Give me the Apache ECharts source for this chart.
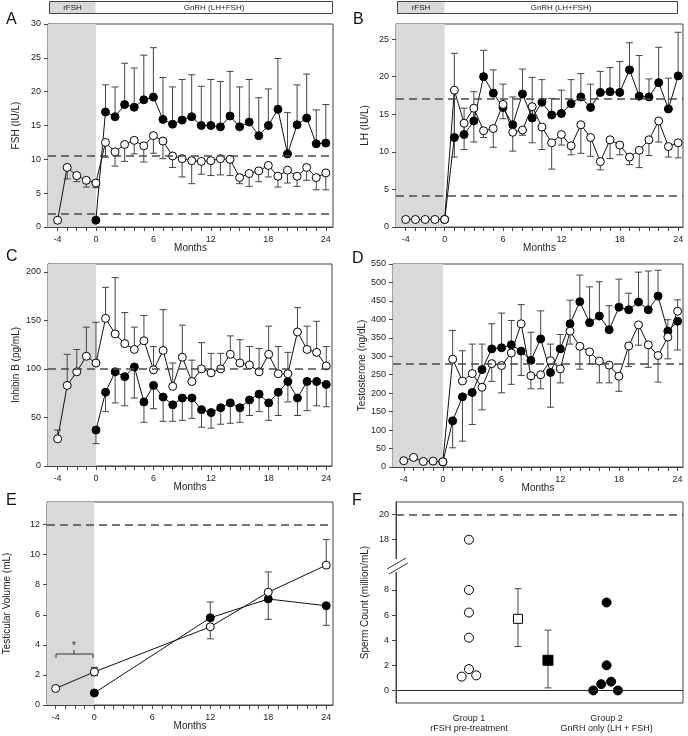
<!DOCTYPE html>
<html><head><meta charset="utf-8">
<script src="https://cdn.jsdelivr.net/npm/echarts@6/dist/echarts.min.js"></script>
<style>html,body{margin:0;padding:0;background:#fff}#c{width:688px;height:736px}</style>
</head><body><div id="c"></div>
<script>
// ---------- DATA ----------
const monthsOpen   = [-4,-3,-2,-1,0,1,2,3,4,5,6,7,8,9,10,11,12,13,14,15,16,17,18,19,20,21,22,23,24];
const monthsFilled = [0,1,2,3,4,5,6,7,8,9,10,11,12,13,14,15,16,17,18,19,20,21,22,23,24];
const tickMonths   = [-4,-3,-2,-1,0,1,2,3,4,5,6,7,8,9,10,11,12,13,14,15,16,17,18,19,20,21,22,23,24];
const labelMonths  = [-4,0,6,12,18,24];

// A: FSH (IU/L)
const fshFilled    = [1.0,17.0,16.3,18.1,17.7,18.8,19.2,15.9,15.2,15.8,16.3,15.0,15.0,14.8,16.4,14.8,15.5,13.5,15.0,17.4,10.8,15.1,16.1,12.3,12.4];
const fshFilledErr = [null,21.0,20.7,24.2,23.5,25.4,26.5,22.1,20.7,21.8,22.5,20.8,21.8,21.5,23.0,20.7,21.8,19.1,20.4,24.9,16.9,21.0,22.6,17.3,18.1];
const fshOpen      = [1.0,8.8,7.6,6.9,6.5,12.5,11.1,12.2,12.8,12.0,13.5,12.7,10.5,10.1,9.8,9.7,9.8,10.1,10.0,7.3,7.9,8.3,9.1,7.5,8.4,7.5,8.8,7.3,8.0];
const fshOpenErr   = [null,7.1,6.7,5.9,5.8,10.3,9.0,9.7,10.8,9.6,10.9,10.1,8.8,7.4,6.4,7.8,7.6,7.7,7.6,6.4,6.0,6.7,7.4,5.9,6.5,6.0,6.9,5.5,5.5];
const fshRefs      = [10.5, 2.0];
const fshTicks     = [0,5,10,15,20,25,30];

// B: LH (IU/L)
const lhFilled     = [1.0,11.9,12.3,14.1,20.0,17.8,15.9,13.6,17.7,14.5,16.6,14.9,15.1,16.4,17.3,15.9,17.9,18.0,17.9,20.9,17.4,17.3,19.2,15.7,20.1];
const lhFilledErr  = [null,23.1,15.8,18.0,23.5,20.9,19.0,17.3,21.0,19.9,19.6,17.1,18.2,19.6,20.4,19.0,20.7,21.2,22.0,24.5,22.8,19.7,23.9,19.8,25.9];
const lhOpen       = [1.0,1.0,1.0,1.0,1.0,18.2,13.8,15.8,12.8,13.1,16.3,12.6,12.9,16.0,13.3,11.2,12.3,10.8,13.6,11.9,8.7,11.6,10.9,9.3,10.2,11.6,14.1,10.7,11.2];
const lhOpenErr    = [null,null,null,null,null,9.3,10.3,11.3,11.9,10.6,14.4,10.1,12.2,11.2,10.3,7.7,10.9,9.6,9.8,9.4,7.6,9.1,9.6,8.3,7.9,9.5,11.3,9.3,9.2];
const lhRefs       = [17.0, 4.2];
const lhTicks      = [0,5,10,15,20,25];

// C: Inhibin B (pg/mL)
const inhFilled    = [37,76,97,92,102,66,83,71,63,70,70,58,55,60,65,60,68,74,65,76,87,70,87,87,84];
const inhFilledErr = [23,56,65,62,70,45,59,46,46,47,49,40,39,43,44,45,52,56,47,52,66,52,57,62,61];
const inhOpen      = [28,83,97,113,106,152,136,126,120,129,99,119,82,112,87,100,96,100,115,106,104,97,115,95,95,138,120,117,103];
const inhOpenErr   = [37,115,120,143,148,184,194,158,143,155,123,161,106,145,109,127,116,116,134,130,123,121,144,123,117,163,144,149,123];
const inhRefs      = [100];
const inhTicks     = [0,50,100,150,200];

// D: Testosterone (ng/dL)
const tesFilled    = [14,125,190,202,264,320,323,331,314,289,347,256,320,388,448,391,409,372,433,426,447,426,463,368,395];
const tesFilledErr = [null,52,70,115,333,388,417,397,248,365,423,162,359,452,520,488,502,437,509,471,528,531,533,399,317];
const tesOpen      = [17,26,15,16,14,292,233,253,216,280,275,309,388,247,250,288,266,368,327,312,287,276,246,328,385,331,302,352,422];
const tesOpenErr   = [null,null,null,null,null,370,315,333,155,232,201,224,440,212,212,333,228,333,265,279,228,228,205,272,330,270,230,293,453];
const tesRefs      = [280];
const tesTicks     = [0,50,100,150,200,250,300,350,400,450,500,550];

// E: Testicular volume (mL)
const volMonthsOpen   = [-4,0,12,18,24];
const volMonthsFilled = [0,12,18,24];
const volOpen         = [1.1,2.2,5.2,7.5,9.3];
const volOpenErr      = [null,2.5,4.4,8.85,11.0];
const volOpenErrLow   = [null,1.95,null,null,null];
const volFilled       = [0.8,5.8,7.05,6.6];
const volFilledErr    = [null,6.85,5.7,5.3];
const volRefs         = [12];
const volTicks        = [0,2,4,6,8,10,12];

// F: Sperm count (million/mL)
const groupPos      = [1, 2];
const groupLabels   = ['Group 1\nrFSH pre-treatment', 'Group 2\nGnRH only (LH + FSH)'];
const spermG1       = [18,8,6.2,4.2,1.7,1.1,1.2];
const spermG1Jitter = [0,0,0,0,0,-0.053,0.053];
const spermG2       = [7.0,2.0,0.5,0.7,0,0];
const spermG2Jitter = [0,0,-0.039,0.033,-0.097,0.082];
const meanPos       = [1.356, 1.574];
const meanVal       = [5.7, 2.4];
const meanLow       = [3.5, 0.2];
const meanHigh      = [8.1, 4.8];
const spermRef      = 20;
const spermTicks    = [0,2,4,6,8,18,20];
const breakLow = 8, breakHigh = 18, breakShrink = 6; // axis break 8 -> 18

// ---------- STYLE ----------
const FONT = 'Liberation Sans, Arial, Helvetica, sans-serif';
const TXT = '#222';
const AX = '#444';
const ERR = '#444';
const SHADE = '#d9d9d9';

const chart = echarts.init(document.getElementById('c'), null, {renderer:'canvas'});

const gridBoxes = [
  {left:48,  top:24,  width:285, height:203},
  {left:396, top:24,  width:287, height:203},
  {left:48,  top:264, width:284, height:202},
  {left:393, top:264, width:290, height:203},
  {left:47,  top:502, width:286, height:203},
  {left:396, top:502, width:287, height:201}
];
const grid = gridBoxes.map(g => Object.assign({show:true, borderColor:AX, borderWidth:1,
  backgroundColor:'rgba(0,0,0,0)', containLabel:false, outerBoundsMode:'none'}, g));

function timeX(gi, min, max) {
  return {type:'value', gridIndex:gi, min:min, max:max,
    name:'Months', nameLocation:'middle', nameGap:16, nameMoveOverlap:false,
    nameTextStyle:{fontFamily:FONT, fontSize:10, color:TXT},
    axisLine:{show:true, onZero:false, lineStyle:{color:AX}},
    axisTick:{show:true, length:4, lineStyle:{color:AX}, customValues:tickMonths},
    axisLabel:{fontFamily:FONT, fontSize:9, color:TXT, margin:8, customValues:labelMonths},
    splitLine:{show:false}};
}
function valY(gi, min, max, ticks, name, gap, fmt) {
  return {type:'value', gridIndex:gi, min:min, max:max,
    name:name, nameLocation:'middle', nameGap:gap, nameMoveOverlap:false,
    nameTextStyle:{fontFamily:FONT, fontSize:10, color:TXT},
    axisLine:{show:true, onZero:false, lineStyle:{color:AX}},
    axisTick:{show:true, length:4, lineStyle:{color:AX}, customValues:ticks},
    axisLabel:{fontFamily:FONT, fontSize:9, color:TXT, margin:7, customValues:ticks, formatter:fmt},
    splitLine:{show:false}};
}

function errRender(params, api) {
  const x = api.value(0), y = api.value(1), c = api.value(2);
  const p0 = api.coord([x, y]), p1 = api.coord([x, c]);
  const w = 3.5;
  return {type:'group', children:[
    {type:'line', shape:{x1:p0[0], y1:p0[1], x2:p1[0], y2:p1[1]}, style:{stroke:ERR, lineWidth:1}},
    {type:'line', shape:{x1:p1[0]-w, y1:p1[1], x2:p1[0]+w, y2:p1[1]}, style:{stroke:ERR, lineWidth:1}}
  ]};
}
function errData(xs, ys, caps) {
  const out = [];
  xs.forEach((x, i) => { if (caps[i] != null) out.push([x, ys[i], caps[i]]); });
  return out;
}
function pairs(xs, ys) { return xs.map((x, i) => [x, ys[i]]); }

const xAxis = [], yAxis = [], series = [];

function timePanel(gi, xmin, xmax, ymin, ymax, ticks, yname, ygap, mo, oVals, oErrs, mf, fVals, fErrs, refs, extraOpenErr) {
  xAxis.push(timeX(gi, xmin, xmax));
  yAxis.push(valY(gi, ymin, ymax, ticks, yname, ygap));
  series.push({type:'line', xAxisIndex:gi, yAxisIndex:gi, data:[], z:1, silent:true,
    markArea:{silent:true, itemStyle:{color:SHADE}, data:[[{xAxis:xmin},{xAxis:0}]]},
    markLine:{silent:true, symbol:'none', label:{show:false},
      lineStyle:{color:'#4a4a4a', type:[8,5], width:1.5},
      data: refs.map(v => ({yAxis:v}))}
  });
  let ed = errData(mf, fVals, fErrs).concat(errData(mo, oVals, oErrs));
  if (extraOpenErr) ed = ed.concat(errData(mo, oVals, extraOpenErr));
  series.push({type:'custom', xAxisIndex:gi, yAxisIndex:gi, renderItem:errRender, data:ed,
    encode:{x:0, y:[1,2]}, z:2, silent:true, clip:false});
  series.push({type:'line', xAxisIndex:gi, yAxisIndex:gi, data:pairs(mf, fVals), z:3,
    symbol:'circle', symbolSize:8, showSymbol:true, animation:false,
    lineStyle:{color:'#111', width:1}, itemStyle:{color:'#000', borderColor:'#000', borderWidth:1}});
  series.push({type:'line', xAxisIndex:gi, yAxisIndex:gi, data:pairs(mo, oVals), z:4,
    symbol:'circle', symbolSize:8, showSymbol:true, animation:false,
    lineStyle:{color:'#111', width:1}, itemStyle:{color:'#fff', borderColor:'#000', borderWidth:1}});
}

timePanel(0, -5, 24.75, 0, 30, fshTicks, 'FSH (IU/L)', 27, monthsOpen, fshOpen, fshOpenErr, monthsFilled, fshFilled, fshFilledErr, fshRefs);
timePanel(1, -5, 24.5, 0, 27, lhTicks, 'LH (IU/L)', 26, monthsOpen, lhOpen, lhOpenErr, monthsFilled, lhFilled, lhFilledErr, lhRefs);
timePanel(2, -5, 24.6, 0, 208, inhTicks, 'Inhibin B (pg/mL)', 27, monthsOpen, inhOpen, inhOpenErr, monthsFilled, inhFilled, inhFilledErr, inhRefs);
timePanel(3, -5.1, 24.55, 0, 550, tesTicks, 'Testosterone (ng/dL)', 26, monthsOpen, tesOpen, tesOpenErr, monthsFilled, tesFilled, tesFilledErr, tesRefs);
timePanel(4, -4.9, 24.7, 0, 13.5, volTicks, 'Testicular Volume (mL)', 35, volMonthsOpen, volOpen, volOpenErr, volMonthsFilled, volFilled, volFilledErr, volRefs, volOpenErrLow);

// Panel F with broken y axis
function brk(v) { return v <= breakLow ? v : v - breakShrink; }
function unbrk(m) { return m <= breakLow ? m : m + breakShrink; }
xAxis.push({type:'value', gridIndex:5, min:0.47, max:2.555,
  axisLine:{show:false, onZero:false}, axisTick:{show:false}, splitLine:{show:false},
  axisLabel:{fontFamily:FONT, fontSize:9, color:TXT, margin:11, lineHeight:10, customValues:groupPos,
    formatter: v => groupLabels[groupPos.indexOf(v)] || ''}});
yAxis.push(valY(5, -1, 15, spermTicks.map(brk), 'Sperm Count (million/mL)', 26, v => String(unbrk(v))));
series.push({type:'line', xAxisIndex:5, yAxisIndex:5, data:[], z:1, silent:true,
  markLine:{silent:true, symbol:'none', label:{show:false},
    data:[{yAxis:brk(spermRef), lineStyle:{color:'#4a4a4a', type:[8,5], width:1.5}},
          {yAxis:0, lineStyle:{color:'#222', type:'solid', width:1}}]}});
const fErr = [];
meanPos.forEach((x, i) => { fErr.push([x, meanVal[i], meanLow[i]]); fErr.push([x, meanVal[i], meanHigh[i]]); });
series.push({type:'custom', xAxisIndex:5, yAxisIndex:5, renderItem:errRender, data:fErr,
  encode:{x:0, y:[1,2]}, z:2, silent:true, clip:false});
const scat = {type:'scatter', xAxisIndex:5, yAxisIndex:5, z:4, silent:true};
series.push(Object.assign({}, scat, {symbol:'circle', symbolSize:9,
  data: spermG1.map((v, i) => [groupPos[0] + spermG1Jitter[i], brk(v)]),
  itemStyle:{color:'#fff', borderColor:'#000', borderWidth:1, opacity:1}}));
series.push(Object.assign({}, scat, {symbol:'circle', symbolSize:9,
  data: spermG2.map((v, i) => [groupPos[1] + spermG2Jitter[i], brk(v)]),
  itemStyle:{color:'#000', borderColor:'#000', borderWidth:1, opacity:1}}));
series.push(Object.assign({}, scat, {symbol:'rect', symbolSize:9,
  data: [[meanPos[0], meanVal[0]]], itemStyle:{color:'#fff', borderColor:'#000', borderWidth:1, opacity:1}}));
series.push(Object.assign({}, scat, {symbol:'rect', symbolSize:10,
  data: [[meanPos[1], meanVal[1]]], itemStyle:{color:'#000', borderColor:'#000', borderWidth:1, opacity:1}}));

// ---------- ANNOTATIONS ----------
function header(x0, xg, x1, y0, h) {
  return {type:'group', z:100, children:[
    {type:'rect', z:100, shape:{x:x0, y:y0, width:xg-x0, height:h}, style:{fill:SHADE}},
    {type:'rect', z:101, shape:{x:x0, y:y0, width:x1-x0, height:h}, style:{fill:'none', stroke:AX, lineWidth:1}},
    {type:'text', z:102, x:(x0+xg)/2, y:y0+h/2, style:{text:'rFSH', font:'8px '+FONT, fill:TXT, align:'center', verticalAlign:'middle'}},
    {type:'text', z:102, x:(xg+x1)/2, y:y0+h/2, style:{text:'GnRH (LH+FSH)', font:'8px '+FONT, fill:TXT, align:'center', verticalAlign:'middle'}}
  ]};
}
function letter(t, x, y) {
  return {type:'text', z:100, x:x, y:y, style:{text:t, font:'16px '+FONT, fill:'#111'}};
}
const graphic = [
  header(49.5, 95.5, 332.5, 1.5, 12),
  header(397.5, 444.5, 677.5, 1.5, 12),
  letter('A', 6, 12), letter('B', 353, 12), letter('C', 6, 249), letter('D', 352, 251),
  letter('E', 6, 493), letter('F', 352, 493),
  {type:'polyline', z:100, shape:{points:[[56,658],[56,654],[93,654],[93,658]]}, style:{stroke:'#333', fill:'none', lineWidth:1}},
  {type:'line', z:100, shape:{x1:74, y1:654, x2:74, y2:650}, style:{stroke:'#333', lineWidth:1}},
  {type:'text', z:100, x:74, y:646, style:{text:'*', font:'11px '+FONT, fill:'#333', align:'center', verticalAlign:'middle'}},
  {type:'rect', z:100, shape:{x:393, y:559, width:6, height:13}, style:{fill:'#fff'}},
  {type:'line', z:101, shape:{x1:387, y1:569, x2:406, y2:558}, style:{stroke:'#333', lineWidth:1}},
  {type:'line', z:101, shape:{x1:389, y1:574, x2:408, y2:563}, style:{stroke:'#333', lineWidth:1}}
];

chart.setOption({animation:false, backgroundColor:'#fff', grid:grid, xAxis:xAxis, yAxis:yAxis, series:series, graphic:graphic});
</script></body></html>
